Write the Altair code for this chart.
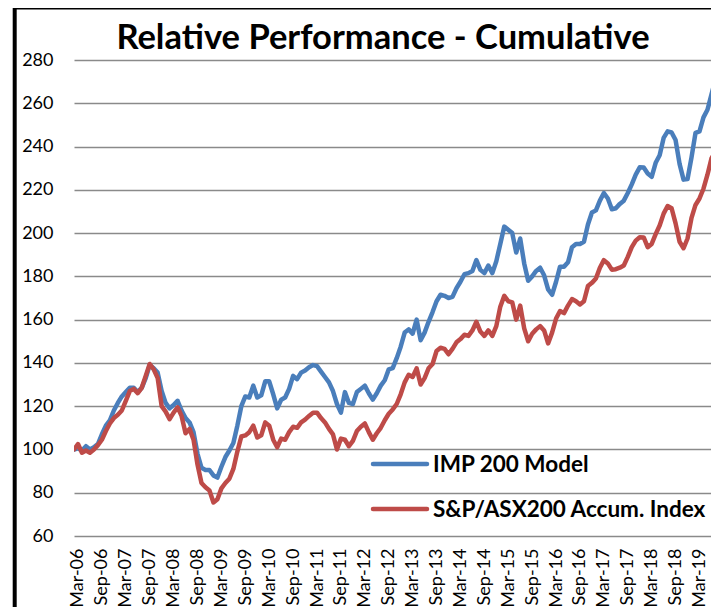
import altair as alt
import pandas as pd

TITLE = "Relative Performance - Cumulative"
SERIES = ["IMP 200 Model", "S&P/ASX200 Accum. Index"]
COLORS = ["#4A7EBB", "#BE4B48"]

# monthly values, first month = Feb-06 (index 0)
IMP = [100, 100.5, 99.5, 101.5, 100, 101, 102.5, 107, 111, 113.5,
       118, 121.5, 124.5, 126.5, 128.5, 128.5, 126.5, 128.5, 133, 139,
       137.5, 135.5, 127, 121.5, 119, 120.5, 122.5, 118, 114.5, 112.5,
       108, 98, 91.5, 90.5, 90.5, 88, 87, 92, 96.5, 99.5,
       103, 111, 120, 124.5, 124, 129.5, 124, 125, 131.5, 131.5,
       125.5, 119, 123, 124, 128, 134, 132.5, 135.5, 136.5, 138,
       139, 138.5, 136, 133.5, 131, 127, 121, 117, 126.5, 121.5,
       121, 126.5, 128, 129.5, 126, 123, 126, 129.5, 132, 137,
       137.6, 142.2, 147.5, 154, 155.5, 153.5, 160, 150.5, 154, 159,
       163.5, 168.5, 171.5, 171, 170, 170.5, 174.5, 177.5, 181, 181.5,
       182.5, 187.5, 183, 181.5, 185, 181.5, 187, 195, 203, 201.5,
       200, 191, 197.5, 186, 178, 180, 182.5, 184, 180.5, 174,
       171.5, 177.5, 184.5, 184.5, 186.5, 193.5, 195, 195, 196, 204,
       209.5, 210.5, 215, 218.5, 216, 211, 211.5, 213.5, 215, 218.5,
       222.5, 227, 230.4, 230.3, 227.5, 226, 232.5, 236, 244, 247,
       246.5, 243, 232, 224.7, 225, 235, 246.3, 247, 253.5, 257,
       264, 271, 258]
ASX = [100, 102.5, 98.5, 99.5, 98.5, 100, 102, 104.5, 108.5, 112,
       114.5, 116, 118, 122.5, 127, 128, 126, 128.5, 134, 139.5,
       137, 133, 120, 117.5, 114, 117, 119.5, 115.5, 107.5, 109.5,
       104.5, 93, 84.5, 82.5, 81, 75.5, 77, 82, 84.5, 86.5,
       91, 99, 106, 106.5, 108, 111, 105.5, 106.5, 112.5, 111,
       104.5, 101, 105, 104.5, 108, 110.5, 110, 112.5, 113.8, 115.5,
       117, 117, 114.5, 112.5, 109.5, 107, 100, 105, 104.5, 101.5,
       104, 108.5, 110.5, 112, 108, 104.5, 107.5, 110, 113.5, 116.5,
       118.5, 121, 125.5, 131, 134.5, 133.5, 137.5, 130, 133, 137.5,
       139.5, 145.5, 147, 146.5, 144, 146.5, 149.5, 151, 153, 152.5,
       155, 159, 154.5, 152.5, 155, 152.5, 157, 166, 171, 168.5,
       168, 160, 166.5, 156, 150, 153.5, 155.5, 157, 155, 149,
       154, 160.5, 164, 163, 166.5, 169.5, 168.5, 167, 168.5, 175.5,
       177, 179, 184, 187.5, 186, 183.1, 183.3, 184, 185, 189,
       193.5, 196.5, 198.1, 198, 193.5, 195, 199.5, 203.5, 209, 212.5,
       211.5, 204.5, 196, 193, 197.5, 207, 213, 216, 220.5, 227,
       234.5, 237.5, 233]

TICK_LABELS = ["Mar-06", "Sep-06", "Mar-07", "Sep-07", "Mar-08", "Sep-08",
               "Mar-09", "Sep-09", "Mar-10", "Sep-10", "Mar-11", "Sep-11",
               "Mar-12", "Sep-12", "Mar-13", "Sep-13", "Mar-14", "Sep-14",
               "Mar-15", "Sep-15", "Mar-16", "Sep-16", "Mar-17", "Sep-17",
               "Mar-18", "Sep-18", "Mar-19"]
Y_TICKS = [60, 80, 100, 120, 140, 160, 180, 200, 220, 240, 260, 280]

FONT = "Lato"
W, H = 637, 476
PX_PER_MONTH = 3.984

df = pd.DataFrame({"m": list(range(len(IMP))), "imp": IMP, "asx": ASX})
tick_pos = [1 + 6 * i for i in range(len(TICK_LABELS))]
label_expr = "[" + ",".join("'%s'" % t for t in TICK_LABELS) + "][round((datum.value - 1) / 6)]"

xscale = alt.Scale(domain=[0, W / PX_PER_MONTH], nice=False, zero=False)
yscale = alt.Scale(domain=[60, 280], nice=False, zero=False)
xaxis = alt.Axis(values=tick_pos, labelExpr=label_expr, labelAngle=270,
                 labelAlign="right", labelBaseline="middle",
                 labelPadding=12, labelFontSize=18, labelFont=FONT,
                 labelColor="#000000", ticks=False, domain=False,
                 grid=False, title=None, labelOverlap=False,
                 labelFlush=False, labelBound=False, labelSeparation=0)
yaxis = alt.Axis(values=Y_TICKS, grid=True, gridColor="#8a8a8a",
                 gridWidth=1.6, ticks=False, domain=False,
                 labelFontSize=18, labelFont=FONT, labelColor="#000000",
                 labelPadding=21, title=None, labelOverlap=False)

line_style = dict(strokeWidth=4.5, strokeJoin="round", strokeCap="round", clip=True)
imp_line = alt.Chart(df).mark_line(color=COLORS[0], **line_style).encode(
    x=alt.X("m:Q", scale=xscale, axis=xaxis),
    y=alt.Y("imp:Q", scale=yscale, axis=yaxis))
asx_line = alt.Chart(df).mark_line(color=COLORS[1], **line_style).encode(
    x=alt.X("m:Q", scale=xscale, axis=xaxis),
    y=alt.Y("asx:Q", scale=yscale, axis=yaxis))

one = pd.DataFrame({"k": [0]})

title = alt.Chart(one).mark_text(text=TITLE, font=FONT, fontWeight="bold",
                                 fontSize=34.5, align="center",
                                 baseline="alphabetic", color="#000000").encode(
    x=alt.value(309), y=alt.value(-11))

leg_parts = []
for i, (name, col) in enumerate(zip(SERIES, COLORS)):
    ly = 404 + 45 * i
    leg_parts.append(alt.Chart(one).mark_rule(color=col, strokeWidth=4.5,
                                              strokeCap="round").encode(
        x=alt.value(299), x2=alt.value(353), y=alt.value(ly)))
    leg_parts.append(alt.Chart(one).mark_text(text=name, font=FONT,
                                              fontWeight="bold", fontSize=22.5,
                                              align="left", baseline="alphabetic",
                                              color="#000000").encode(
        x=alt.value(359), y=alt.value(ly + 8)))

left_border = alt.Chart(one).mark_rule(color="#000000", strokeWidth=4).encode(
    x=alt.value(-59.3), y=alt.value(-60), y2=alt.value(560))
top_border = alt.Chart(one).mark_rule(color="#000000", strokeWidth=3).encode(
    x=alt.value(-61), x2=alt.value(W), y=alt.value(-52))

chart = alt.layer(imp_line, asx_line, title, *leg_parts, left_border, top_border).properties(
    width=W, height=H,
    autosize=alt.AutoSizeParams(type="none"),
    padding={"left": 66, "top": 52, "right": 0, "bottom": 71},
    background="#ffffff",
).configure_view(stroke=None)

chart.save("out.html", embed_options={"renderer": "svg", "actions": False})
